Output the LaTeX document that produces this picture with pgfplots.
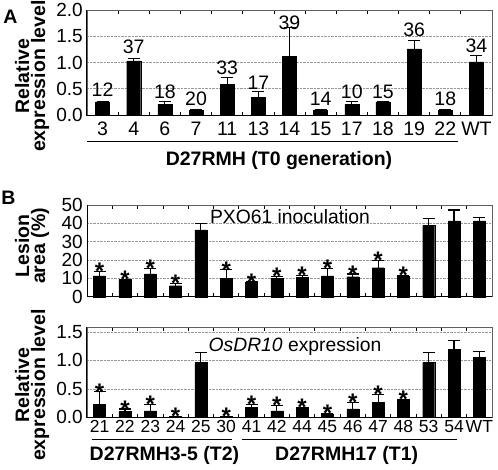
\documentclass[border=0pt]{standalone}
\usepackage{pgfplots}
\pgfplotsset{compat=1.18}
\usepackage{pgfplotstable}
\usepackage{fontspec}
\setmainfont{Liberation Sans}

% Panel A: x, bar value, error (plus), label baseline, n
\pgfplotstableread{
x y e ly n
0 0.25 0.00 0.34 12
1 1.03 0.04 1.16 37
2 0.20 0.05 0.30 18
3 0.095 0.00 0.17 20
4 0.59 0.13 0.76 33
5 0.34 0.10 0.49 17
6 1.12 0.54 1.63 39
7 0.095 0.00 0.17 14
8 0.20 0.05 0.31 10
9 0.25 0.00 0.31 15
10 1.26 0.16 1.49 36
11 0.095 0.00 0.17 18
12 1.01 0.13 1.19 34
}\dataA

% Panel B top: lesion area (%)
\pgfplotstableread{
x y e t
0 11.3 2.4 13.7
1 9.5 0.0 9.5
2 12.4 3.1 15.5
3 6.0 1.1 7.1
4 36.4 3.7 nan
5 10.0 4.6 14.6
6 8.0 0.0 8.0
7 10.0 0.9 10.9
8 10.6 0.8 11.4
9 11.4 4.0 15.4
10 10.9 1.5 12.4
11 15.8 3.9 19.7
12 11.4 0.0 11.4
13 38.8 3.8 nan
14 41.3 6.0 nan
15 41.3 2.0 nan
}\dataBa

% Panel B bottom: OsDR10 relative expression
\pgfplotstableread{
x y e t
0 0.227 0.220 0.447
1 0.100 0.045 0.145
2 0.115 0.115 0.230
3 0.020 0.000 0.020
4 0.960 0.170 nan
5 0.020 0.000 0.020
6 0.175 0.052 0.227
7 0.115 0.100 0.215
8 0.175 0.000 0.175
9 0.063 0.000 0.063
10 0.150 0.110 0.260
11 0.267 0.133 0.400
12 0.315 0.000 0.315
13 0.960 0.170 nan
14 1.190 0.160 nan
15 1.050 0.100 nan
}\dataBb

\pgfplotsset{
  panel/.style={
    scale only axis, anchor=south west,
    width=405pt,
    /pgf/number format/assume math mode=true,
    axis line style={draw=gray!75!black, line width=0.8pt},
    major tick length=0pt,
    minor tick length=3.5pt,
    tick align=inside,
    minor tick style={black, line width=0.8pt},
    ymajorgrids,
    major grid style={densely dotted, gray!80, line width=0.6pt},
    yticklabel style={font=\fontsize{19}{19}\selectfont, inner sep=0pt, xshift=-4pt},
    after end axis/.code={\draw[black, line width=1pt] (rel axis cs:0,1) -- (rel axis cs:0,0) -- (rel axis cs:1,0);},
  },
  barsty/.style={ybar, bar shift=0pt, bar width=#1, fill=black, draw=black,
    error bars/.cd, y dir=plus, y explicit,
    error bar style={black, line width=1.1pt},
    error mark options={black, rotate=90, mark size=6pt, line width=1.1pt}},
  starsty/.style={draw=none, mark=none,
    nodes near coords={\raisebox{-0.44em}[0.3em][0pt]{*}},
    every node near coord/.append style={inner sep=0pt, anchor=south, yshift=2.2pt,
      font=\bfseries\fontsize{24}{24}\selectfont}},
}

\begin{document}
\begin{tikzpicture}[x=1pt,y=1pt]
\useasboundingbox (0,-469) rectangle (498,0);

% ---------------- Panel A ----------------
\begin{axis}[panel,
  at={(87pt,-115pt)}, height=105pt,
  xmin=-0.5, xmax=12.5, ymin=0, ymax=2,
  ytick={0,0.5,1,1.5,2},
  yticklabel style={/pgf/number format/.cd, fixed, fixed zerofill, precision=1},
  xtick={0,...,12},
  xticklabels={3,4,6,7,11,13,14,15,17,18,19,22,WT},
  xticklabel style={font=\fontsize{19.5}{19.5}\selectfont, inner sep=0pt, yshift=-7pt},
  minor xtick={0.5,1.5,...,11.5},
  clip=false,
]
\addplot[barsty=14pt] table[x=x, y=y, y error=e]{\dataA};
\addplot[draw=none, mark=none, nodes near coords, point meta=explicit symbolic,
  every node near coord/.append style={inner sep=0pt, font=\fontsize{19.5}{19.5}\selectfont}]
  table[x=x, y=ly, meta=n]{\dataA};
\end{axis}

% ---------------- Panel B top ----------------
\begin{axis}[panel,
  at={(87pt,-296.7pt)}, height=91.7pt,
  xmin=-0.5, xmax=15.5, ymin=0, ymax=50,
  ytick={0,10,20,30,40,50},
  xtick={0,...,15}, xticklabels={},
  minor xtick={0.5,1.5,...,14.5},
  clip=false,
]
\addplot[barsty=12pt] table[x=x, y=y, y error=e]{\dataBa};
\addplot[starsty] table[x=x, y=t]{\dataBa};
\end{axis}

% ---------------- Panel B bottom ----------------
\begin{axis}[panel,
  at={(87pt,-417.3pt)}, height=90pt,
  xmin=-0.5, xmax=15.5, ymin=0, ymax=1.58,
  ytick={0,0.5,1,1.5},
  yticklabel style={/pgf/number format/.cd, fixed, fixed zerofill, precision=1},
  xtick={0,...,15},
  xticklabels={21,22,23,24,25,30,41,42,44,45,46,47,48,53,54,WT},
  xticklabel style={font=\fontsize{17.5}{17.5}\selectfont, inner sep=0pt, yshift=-3pt},
  minor xtick={0.5,1.5,...,14.5},
  clip=false,
]
\addplot[barsty=12pt] table[x=x, y=y, y error=e]{\dataBb};
\addplot[starsty] table[x=x, y=t]{\dataBb};
\end{axis}

% ---------------- annotations ----------------
\node[font=\bfseries\fontsize{19.5}{19.5}\selectfont] at (10.5,-16.5) {A};
\node[font=\bfseries\fontsize{19.5}{19.5}\selectfont] at (8.5,-197.5) {B};

\node[rotate=90, align=center, font=\bfseries\fontsize{19.5}{16}\selectfont] at (32,-76) {Relative\\expression level};
\node[rotate=90, align=center, font=\bfseries\fontsize{19.5}{16}\selectfont] at (32,-246) {Lesion\\area (\%)};
\node[rotate=90, align=center, font=\bfseries\fontsize{19.5}{16}\selectfont] at (32,-385) {Relative\\expression level};

\draw[black, line width=1pt] (87,-141) -- (458,-141);
\node[font=\bfseries\fontsize{19.5}{19.5}\selectfont] at (279,-160) {D27RMH (T0 generation)};

\node[font=\fontsize{19.3}{19.3}\selectfont] at (290,-217) {PXO61 inoculation};
\node[font=\fontsize{19.3}{19.3}\selectfont] at (295,-346.5) {\textit{OsDR10} expression};

\draw[black, line width=1pt] (91.7,-439.3) -- (231.7,-439.3);
\draw[black, line width=1pt] (242.3,-439.3) -- (456.7,-439.3);
\node[font=\bfseries\fontsize{19.5}{19.5}\selectfont] at (164.5,-455) {D27RMH3-5 (T2)};
\node[font=\bfseries\fontsize{19.5}{19.5}\selectfont] at (346.7,-455) {D27RMH17 (T1)};
\end{tikzpicture}
\end{document}
